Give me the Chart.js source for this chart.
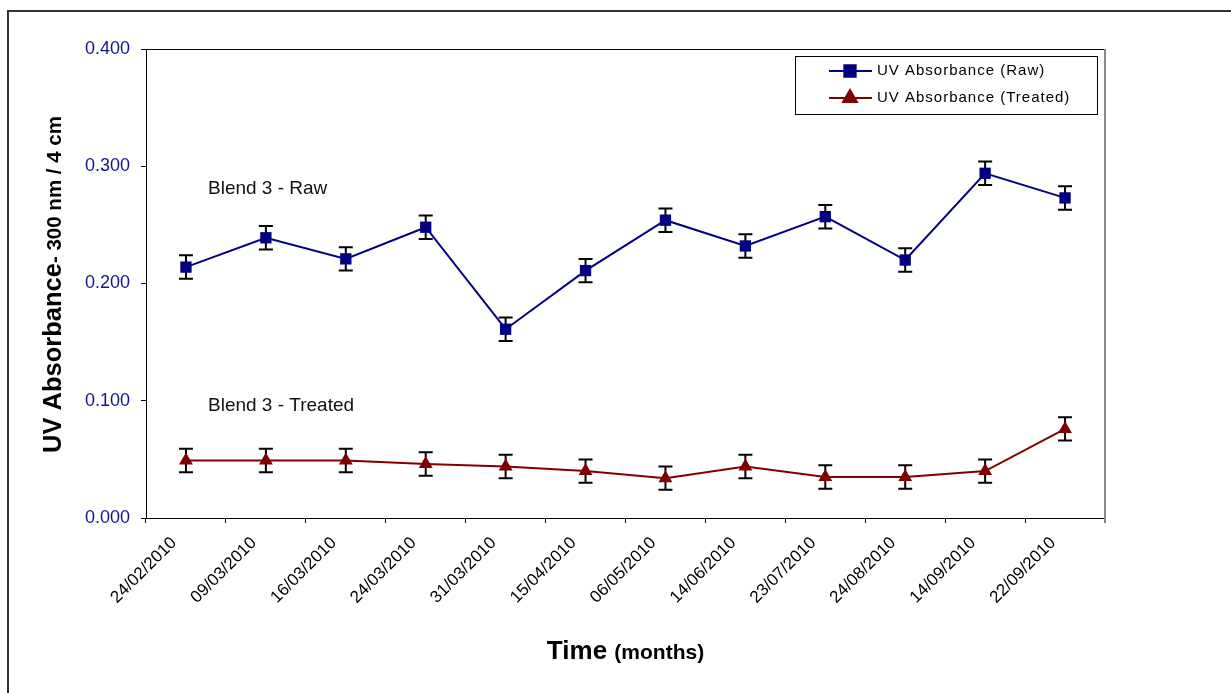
<!DOCTYPE html>
<html>
<head>
<meta charset="utf-8">
<script src="https://cdn.jsdelivr.net/npm/chart.js@4/dist/chart.umd.min.js"></script>
<style>
  html, body { margin: 0; padding: 0; background: #fff; }
  #wrap { width: 1231px; height: 693px; position: relative; }
</style>
</head>
<body>
<div id="wrap"><canvas id="uvChart"></canvas></div>
<script>
const dates = ['24/02/2010', '09/03/2010', '16/03/2010', '24/03/2010', '31/03/2010', '15/04/2010',
               '06/05/2010', '14/06/2010', '23/07/2010', '24/08/2010', '14/09/2010', '22/09/2010'];
const rawValues = [0.214, 0.239, 0.221, 0.248, 0.161, 0.211, 0.254, 0.232, 0.257, 0.220, 0.294, 0.273];
const rawErrors = [0.010, 0.010, 0.010, 0.010, 0.010, 0.010, 0.010, 0.010, 0.010, 0.010, 0.010, 0.010];
const treatedValues = [0.049, 0.049, 0.049, 0.046, 0.044, 0.040, 0.034, 0.044, 0.035, 0.035, 0.040, 0.076];
const treatedErrors = [0.010, 0.010, 0.010, 0.010, 0.010, 0.010, 0.010, 0.010, 0.010, 0.010, 0.010, 0.010];
const yTicks = [0, 0.1, 0.2, 0.3, 0.4];

const FONT = '"Liberation Sans", Arial, Helvetica, sans-serif';
const NAVY = '#000080';
const MAROON = '#800000';

// error bars, drawn under the markers
const errorBars = {
    id: 'errorBars',
    beforeDatasetsDraw(chart) {
        const { ctx, scales: { y } } = chart;
        ctx.save();
        ctx.strokeStyle = '#000';
        ctx.lineWidth = 2;
        chart.data.datasets.forEach((ds, di) => {
            const meta = chart.getDatasetMeta(di);
            meta.data.forEach((pt, i) => {
                const v = ds.data[i], e = ds.errors[i];
                const top = y.getPixelForValue(v + e);
                const bot = y.getPixelForValue(v - e);
                ctx.beginPath();
                ctx.moveTo(pt.x, top); ctx.lineTo(pt.x, bot);
                ctx.moveTo(pt.x - 7, top); ctx.lineTo(pt.x + 7, top);
                ctx.moveTo(pt.x - 7, bot); ctx.lineTo(pt.x + 7, bot);
                ctx.stroke();
            });
        });
        ctx.restore();
    }
};

// frame, plot border, titles, notes, legend
const decorations = {
    id: 'decorations',
    afterDraw(chart) {
        const { ctx, chartArea: a, scales: { x, y } } = chart;
        ctx.save();

        // outer frame (top + left visible)
        ctx.strokeStyle = '#333';
        ctx.lineWidth = 2;
        ctx.beginPath();
        ctx.moveTo(8, 693); ctx.lineTo(8, 11); ctx.lineTo(1231, 11);
        ctx.stroke();

        // plot area top and right edges
        ctx.lineWidth = 1;
        ctx.strokeStyle = '#000';
        ctx.beginPath();
        ctx.moveTo(a.left - 5, a.top + 0.5); ctx.lineTo(a.right, a.top + 0.5);
        ctx.stroke();
        ctx.strokeStyle = '#888';
        ctx.lineWidth = 2;
        ctx.beginPath();
        ctx.moveTo(a.right, a.top); ctx.lineTo(a.right, a.bottom + 5);
        ctx.stroke();

        // y axis title, two sizes
        ctx.fillStyle = '#000';
        ctx.textBaseline = 'alphabetic';
        ctx.textAlign = 'left';
        const p1 = 'UV Absorbance', p2 = '- 300 nm / 4 cm';
        const f1 = `bold 25.5px ${FONT}`, f2 = `bold 20.5px ${FONT}`;
        ctx.font = f1; const w1 = ctx.measureText(p1).width;
        ctx.font = f2; const w2 = ctx.measureText(p2).width;
        const cy = (a.top + a.bottom) / 2 + 1;
        ctx.save();
        ctx.translate(61, cy + (w1 + w2) / 2);
        ctx.rotate(-Math.PI / 2);
        ctx.font = f1; ctx.fillText(p1, 0, 0);
        ctx.font = f2; ctx.fillText(p2, w1, 0);
        ctx.restore();

        // x axis title, two sizes
        const q1 = 'Time ', q2 = '(months)';
        const g1 = `bold 26px ${FONT}`, g2 = `bold 21px ${FONT}`;
        ctx.font = g1; const v1 = ctx.measureText(q1).width;
        ctx.font = g2; const v2 = ctx.measureText(q2).width;
        const sx = (a.left + a.right) / 2 - (v1 + v2) / 2;
        ctx.font = g1; ctx.fillText(q1, sx, 659);
        ctx.font = g2; ctx.fillText(q2, sx + v1, 659);

        // series notes
        ctx.font = `19px ${FONT}`;
        ctx.fillStyle = '#111';
        ctx.fillText('Blend 3 - Raw', a.left + 62, y.getPixelForValue(0.276));
        ctx.fillText('Blend 3 - Treated', a.left + 62, y.getPixelForValue(0.091));

        // legend box
        const lx = 795, ly = 56, lw = 302, lh = 58;
        ctx.fillStyle = '#fff';
        ctx.fillRect(lx, ly, lw, lh);
        ctx.strokeStyle = '#000';
        ctx.lineWidth = 1;
        ctx.strokeRect(lx + 0.5, ly + 0.5, lw, lh);
        ctx.font = `15px ${FONT}`;
        if ('letterSpacing' in ctx) ctx.letterSpacing = '1px';
        ctx.textBaseline = 'middle';
        chart.data.datasets.forEach((ds, i) => {
            const ry = 71 + i * 27;
            ctx.strokeStyle = ds.borderColor;
            ctx.lineWidth = 2;
            ctx.beginPath(); ctx.moveTo(829, ry); ctx.lineTo(872, ry); ctx.stroke();
            Chart.helpers.drawPoint(ctx, {
                pointStyle: ds.pointStyle, radius: ds.pointRadius, borderWidth: 1, rotation: 0
            }, 850, ry);
            ctx.fillStyle = ds.pointBackgroundColor;
            ctx.fill();
            ctx.fillStyle = '#000';
            ctx.fillText(ds.label, 877, ry);
        });
        ctx.restore();
    }
};

new Chart(document.getElementById('uvChart'), {
    type: 'line',
    data: {
        labels: dates,
        datasets: [
            {
                label: 'UV Absorbance (Raw)',
                data: rawValues,
                errors: rawErrors,
                borderColor: NAVY,
                backgroundColor: NAVY,
                borderWidth: 2,
                pointStyle: 'rect',
                pointRadius: 8,
                pointBackgroundColor: NAVY,
                pointBorderColor: NAVY,
                pointBorderWidth: 0,
                tension: 0
            },
            {
                label: 'UV Absorbance (Treated)',
                data: treatedValues,
                errors: treatedErrors,
                borderColor: MAROON,
                backgroundColor: MAROON,
                borderWidth: 2,
                pointStyle: 'triangle',
                pointRadius: 8,
                pointBackgroundColor: MAROON,
                pointBorderColor: MAROON,
                pointBorderWidth: 0,
                tension: 0
            }
        ]
    },
    options: {
        responsive: true,
        maintainAspectRatio: false,
        animation: false,
        layout: { padding: { left: 0, top: 49, right: 126, bottom: 0 } },
        plugins: {
            legend: { display: false },
            tooltip: { enabled: false }
        },
        scales: {
            x: {
                type: 'category',
                offset: true,
                grid: { offset: true, drawOnChartArea: false, drawTicks: true, tickLength: 5, color: '#000' },
                border: { display: true, color: '#000', width: 1 },
                ticks: {
                    minRotation: 45, maxRotation: 45, autoSkip: false,
                    padding: 10, labelOffset: -12, color: '#000',
                    font: { family: FONT, size: 17 }
                },
                afterFit: s => { s.height = 175; }
            },
            y: {
                min: 0, max: 0.4,
                afterBuildTicks: s => { s.ticks = yTicks.map(v => ({ value: v })); },
                grid: { drawOnChartArea: false, drawTicks: true, tickLength: 5, color: '#000' },
                border: { display: true, color: '#000', width: 1 },
                ticks: {
                    padding: 11, color: '#14148c',
                    font: { family: FONT, size: 18 },
                    callback: v => Number(v).toFixed(3)
                },
                afterFit: s => { s.width = 146; }
            }
        }
    },
    plugins: [errorBars, decorations]
});
</script>
</body>
</html>
